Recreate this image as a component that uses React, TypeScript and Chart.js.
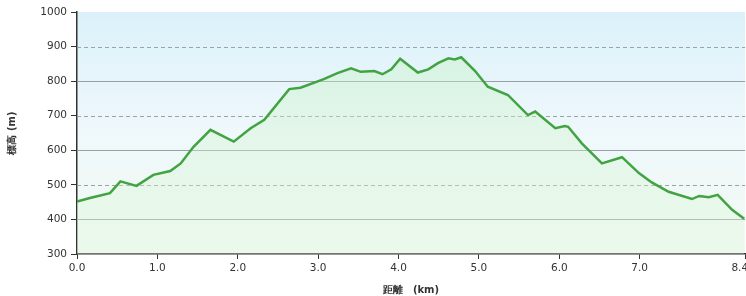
import React, { useEffect, useRef } from "react";
import { Chart, registerables } from "chart.js";

Chart.register(...registerables);

const distKm = [
  0.0, 0.16, 0.41, 0.54, 0.74, 0.95, 1.16, 1.29, 1.45, 1.66, 1.95, 2.16, 2.33, 2.64, 2.78,
  3.07, 3.24, 3.41, 3.53, 3.7, 3.8, 3.91, 4.02, 4.24, 4.37, 4.49, 4.62, 4.7, 4.78, 4.95,
  5.11, 5.36, 5.61, 5.7, 5.95, 6.07, 6.11, 6.28, 6.53, 6.78, 6.99, 7.15, 7.36, 7.65, 7.74,
  7.86, 7.97, 8.15, 8.3,
];
const elevM = [
  452, 462, 476, 510, 497, 529, 540, 562, 610, 659, 625, 664, 688, 777, 781,
  806, 823, 837, 827, 829, 820, 834, 865, 825, 834, 852, 866, 863, 869, 830,
  784, 760, 702, 712, 664, 670, 668, 620, 562, 580, 534, 507, 480, 459, 468,
  464, 471, 428, 402,
];
const xMax = 8.31;
const xTickValues = [0, 1, 2, 3, 4, 5, 6, 7, xMax];
const xTickLabels = ["0.0", "1.0", "2.0", "3.0", "4.0", "5.0", "6.0", "7.0", "8.4\u2002\u2002"];
const yTickValues = [300, 400, 500, 600, 700, 800, 900, 1000];
const dashedValues = [500, 700, 900];
const solidValues = [400, 600, 800];
const yTitle = "標高 (m)";
const xTitle = "距離　(km)";

const FONT = "'DejaVu Sans', Verdana, sans-serif";

export default function App() {
  const ref = useRef<HTMLCanvasElement | null>(null);

  useEffect(() => {
    const canvas = ref.current;
    if (!canvas) return;

    const bgPlugin = {
      id: "bgPlugin",
      beforeDraw(chart: any) {
        const { ctx, chartArea } = chart;
        const { left, top, right, bottom } = chartArea;
        const g = ctx.createLinearGradient(0, top, 0, bottom);
        g.addColorStop(0, "#dbf1fa");
        g.addColorStop(0.5, "#eff8fb");
        g.addColorStop(1, "#f1faf1");
        ctx.save();
        ctx.fillStyle = g;
        ctx.fillRect(left, top, right - left, bottom - top);
        ctx.restore();
      },
      afterDatasetsDraw(chart: any) {
        const { ctx, chartArea } = chart;
        const y = chart.scales.y;
        ctx.save();
        ctx.globalCompositeOperation = "destination-over";
        ctx.restore();
      },
      beforeDatasetsDraw(chart: any) {
        const { ctx, chartArea } = chart;
        const y = chart.scales.y;
        ctx.save();
        ctx.lineWidth = 1;
        ctx.strokeStyle = "#97a0a2";
        for (const v of solidValues) {
          const py = Math.round(y.getPixelForValue(v)) + 0.5;
          ctx.setLineDash([]);
          ctx.beginPath();
          ctx.moveTo(chartArea.left, py);
          ctx.lineTo(chartArea.right, py);
          ctx.stroke();
        }
        ctx.strokeStyle = "#9aa3a5";
        for (const v of dashedValues) {
          const py = Math.round(y.getPixelForValue(v)) + 0.5;
          ctx.setLineDash([4, 3]);
          ctx.beginPath();
          ctx.moveTo(chartArea.left, py);
          ctx.lineTo(chartArea.right, py);
          ctx.stroke();
        }
        ctx.restore();
      },
    };

    const chart = new Chart(canvas, {
      type: "line",
      data: {
        datasets: [
          {
            data: distKm.map((d, i) => ({ x: d, y: elevM[i] })),
            borderColor: "#41a341",
            borderWidth: 2.5,
            pointRadius: 0,
            tension: 0,
            fill: "start",
            backgroundColor: (ctx: any) => {
              const ch = ctx.chart;
              const area = ch.chartArea;
              if (!area) return "rgba(200,240,200,0.3)";
              const g = ch.ctx.createLinearGradient(0, area.top, 0, area.bottom);
              g.addColorStop(0, "rgba(190,240,185,0.4)");
              g.addColorStop(1, "rgba(225,247,225,0.35)");
              return g;
            },
          },
        ],
      },
      options: {
        animation: false,
        responsive: false,
        devicePixelRatio: 1,
        layout: { padding: { top: 12, right: 1, left: 0, bottom: 0 } },
        plugins: { legend: { display: false }, tooltip: { enabled: false } },
        scales: {
          x: {
            type: "linear",
            min: 0,
            max: xMax,
            afterBuildTicks(scale: any) {
              scale.ticks = xTickValues.map((v) => ({ value: v }));
            },
            afterFit(scale: any) {
              scale.height = 42;
              scale.paddingLeft = 0;
              scale.paddingRight = 0;
            },
            ticks: {
              autoSkip: false,
              maxRotation: 0,
              padding: 3,
              color: "#333",
              font: { family: FONT, size: 10.5 },
              callback: (value: any) => {
                const i = xTickValues.indexOf(Number(value));
                return i >= 0 ? xTickLabels[i] : "";
              },
            },
            grid: {
              drawOnChartArea: false,
              drawTicks: true,
              tickLength: 5,
              tickColor: "#333",
              tickWidth: 1,
            },
            border: { display: true, color: "#333", width: 1.5 },
            title: {
              display: true,
              text: xTitle,
              color: "#333",
              font: { family: FONT, size: 10, weight: "bold" },
              padding: { top: 0, bottom: 0 },
            },
          },
          y: {
            type: "linear",
            min: 300,
            max: 1000,
            afterBuildTicks(scale: any) {
              scale.ticks = yTickValues.map((v) => ({ value: v }));
            },
            afterFit(scale: any) {
              scale.width = 77;
              scale.paddingTop = 0;
              scale.paddingBottom = 0;
            },
            ticks: {
              padding: 4,
              color: "#333",
              font: { family: FONT, size: 10.5 },
              callback: (value: any) => String(value),
            },
            grid: {
              drawOnChartArea: false,
              drawTicks: true,
              tickLength: 6,
              tickColor: "#333",
              tickWidth: 1,
            },
            border: { display: true, color: "#333", width: 1.5 },
            title: {
              display: true,
              text: yTitle,
              color: "#333",
              font: { family: FONT, size: 10, weight: "bold" },
              padding: { top: 6, bottom: 0 },
            },
          },
        },
      },
      plugins: [bgPlugin],
    } as any);

    return () => chart.destroy();
  }, []);

  return (
    <div style={{ position: "fixed", left: 0, top: 0, width: 746, height: 296, background: "#fff" }}>
      <canvas ref={ref} width={746} height={296} style={{ width: 746, height: 296, display: "block" }} />
    </div>
  );
}
